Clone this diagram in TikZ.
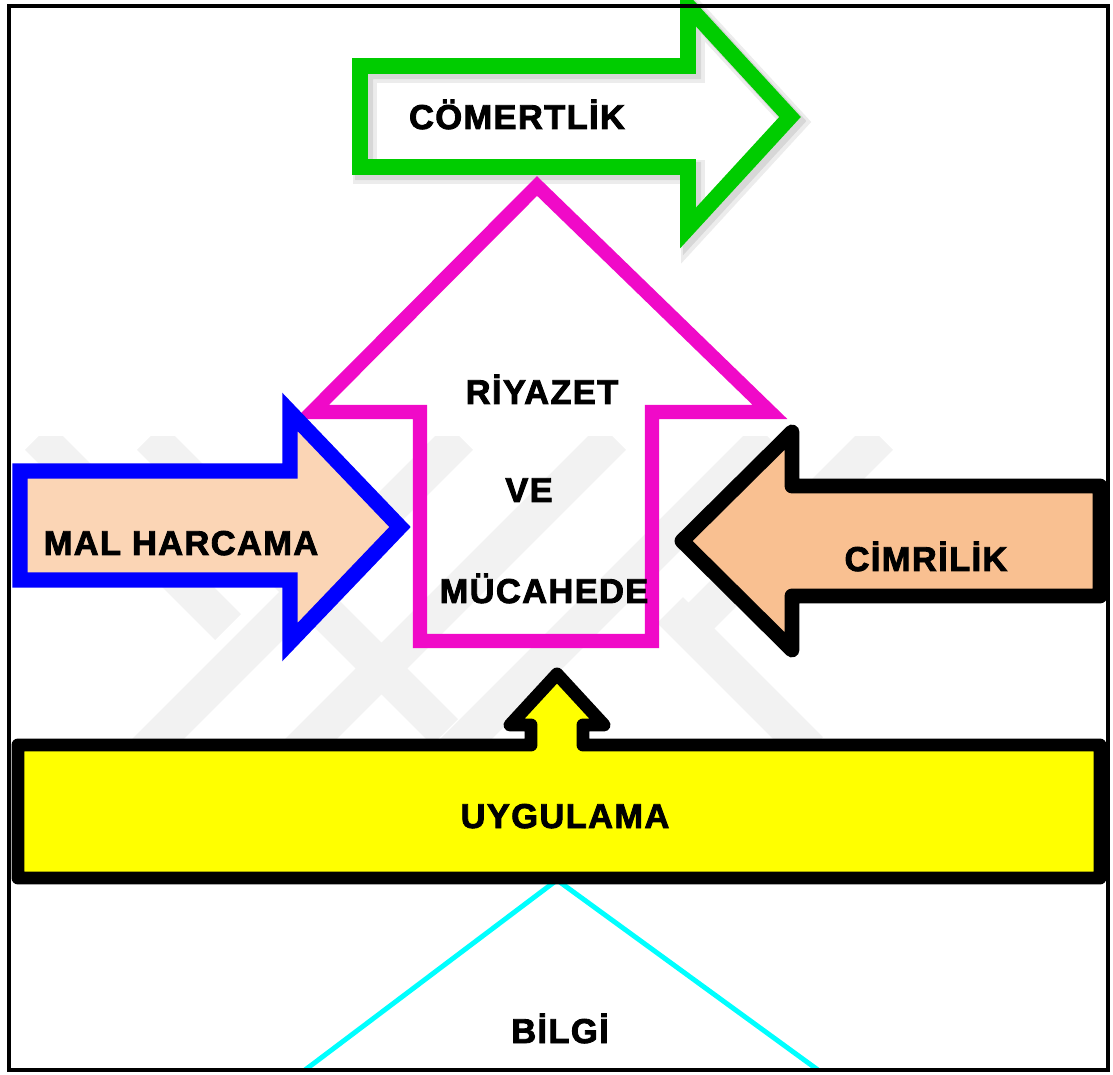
\documentclass[tikz,border=0pt]{standalone}
\usepackage{fontspec}
\setmainfont{Liberation Sans}[BoldFeatures={FakeBold=2.5,LetterSpace=4}]
\usepackage{tikz}

\definecolor{yesil}{RGB}{0,204,0}
\definecolor{pembe}{RGB}{240,10,200}
\definecolor{mavi}{RGB}{0,0,255}
\definecolor{seftali}{RGB}{251,213,181}
\definecolor{turuncu}{RGB}{249,192,145}
\definecolor{sari}{RGB}{255,255,0}
\definecolor{camgobegi}{RGB}{0,255,255}
\definecolor{filigran}{RGB}{242,242,242}

\begin{document}
\begin{tikzpicture}[x=0.025cm, y=-0.025cm,
  etiket/.style={font=\fontsize{24.5}{27}\selectfont\bfseries, inner sep=0pt, anchor=base},
  serit/.style={filigran, line width=26pt}]

\useasboundingbox (0,0) rectangle (1113,1075);

% faint logo behind
\begin{scope}
\clip (20,437) rectangle (900,745);
\draw [serit] (38,437) -- (228,627);
\draw [serit] (150,437) -- (445,732);
\draw [serit] (137,760) -- (460,437);
\draw [serit] (290,760) -- (613,437);
\draw [serit] (445,760) -- (768,437);
\draw [serit] (880,437) -- (690,627);
\draw [serit] (670,610) -- (810,750);
\end{scope}

% bilgi
\draw [camgobegi, line width=3.5pt] (305,1070) -- (557,880) -- (818,1070);
\node [etiket] (bilgi) at (560,1043) {BİLGİ};

% comertlik
\draw [gray, opacity=.15, line width=17pt, shift={(5,5)}] (360,66) -- (688,66) -- (688,6) -- (790,117) -- (688,228) -- (688,167) -- (360,167) -- cycle;
\draw [gray, opacity=.2, line width=13pt, shift={(4,4)}] (360,66) -- (688,66) -- (688,6) -- (790,117) -- (688,228) -- (688,167) -- (360,167) -- cycle;
\draw [yesil, line width=11.3pt] (360,66) -- (688,66) -- (688,6) -- (790,117) -- (688,228) -- (688,167) -- (360,167) -- cycle;
\node [etiket] (comert) at (517,129) {CÖMERTLİK};

% riyazet ve mucahede
\draw [pembe, line width=10pt] (420,641) -- (420,412) -- (312,412) -- (537,186) -- (770,412) -- (652,412) -- (652,641) -- cycle;
\node [etiket] (riyazet) at (542,404) {RİYAZET};
\node [etiket] (ve) at (529,502) {VE};
\node [etiket] (mucahede) at (544,603) {MÜCAHEDE};

% mal harcama
\filldraw [draw=mavi, fill=seftali, line width=11pt] (20,471) -- (290,471) -- (290,412) -- (400,527) -- (290,642) -- (290,580) -- (20,580) -- cycle;
\node [etiket] (mal) at (181,555) {MAL HARCAMA};

% cimrilik
\filldraw [draw=black, fill=turuncu, line width=10.6pt, line join=round] (1100,486) -- (792,486) -- (792,432) -- (682,541) -- (792,650) -- (792,596) -- (1100,596) -- cycle;
\node [etiket] (cimri) at (926,571) {CİMRİLİK};

% uygulama
\filldraw [draw=black, fill=sari, line width=9.2pt, line join=round] (18,745) -- (531,745) -- (531,725) -- (510,725) -- (557,674) -- (604,725) -- (583,725) -- (583,745) -- (1100,745) -- (1100,878) -- (18,878) -- cycle;
\node [etiket] (uyg) at (565,828) {UYGULAMA};

% frame
\draw [black, line width=2.8pt] (9,6) rectangle (1108,1070);

\end{tikzpicture}
\end{document}
